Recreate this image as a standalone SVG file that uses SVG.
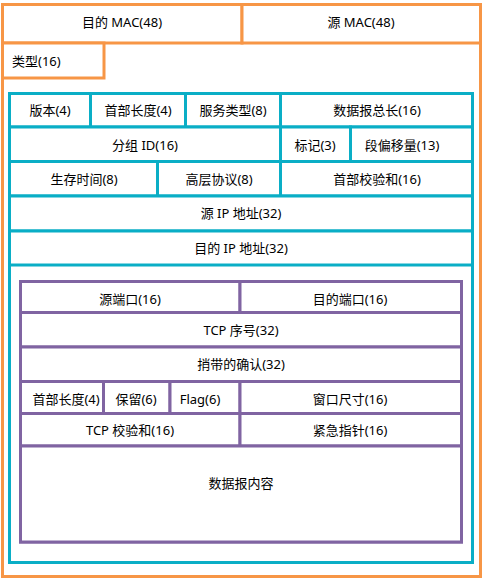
<svg xmlns="http://www.w3.org/2000/svg" width="485" height="581" viewBox="0 0 485 581">
<style>
rect{fill:#fff;stroke-width:3}
.o{stroke:#F79646}
.t{stroke:#0AAEC6}
.p{stroke:#8064A2}
text{font-family:"Noto Sans","Noto Sans CJK SC",sans-serif;font-size:13px;fill:#000;text-anchor:middle;dominant-baseline:central}
</style>
<rect width="485" height="581" style="stroke:none"/>
<g id="eth">
<rect class="o" x="2.5" y="4.5" width="478" height="572"/>
</g>
<g id="dst-mac"><rect class="o" x="2.5" y="4.5" width="239.5" height="38.5"/><text x="122" y="22">目的 MAC(48)</text></g>
<g id="src-mac"><rect class="o" x="242" y="4.5" width="238.5" height="38.5"/><text x="361" y="22">源 MAC(48)</text></g>
<g id="type"><rect class="o" x="2.5" y="43" width="101.5" height="35"/><text x="12" y="61" style="text-anchor:start">类型(16)</text></g>

<g id="ip">
<rect class="t" x="9.5" y="93.5" width="463" height="469"/>
</g>
<g id="ip-ver"><rect class="t" x="9.5" y="93.5" width="81" height="33.5"/><text x="50" y="110">版本(4)</text></g>
<g id="ip-hlen"><rect class="t" x="90.5" y="93.5" width="95" height="33.5"/><text x="138" y="110">首部长度(4)</text></g>
<g id="ip-tos"><rect class="t" x="185.5" y="93.5" width="95" height="33.5"/><text x="233" y="110">服务类型(8)</text></g>
<g id="ip-len"><rect class="t" x="280.5" y="93.5" width="192" height="33.5"/><text x="377" y="110">数据报总长(16)</text></g>
<g id="ip-id"><rect class="t" x="9.5" y="127" width="271" height="34.5"/><text x="145" y="145">分组 ID(16)</text></g>
<g id="ip-flag"><rect class="t" x="280.5" y="127" width="70" height="34.5"/><text x="315" y="145">标记(3)</text></g>
<g id="ip-off"><rect class="t" x="350.5" y="127" width="122" height="34.5"/><text x="402" y="145">段偏移量(13)</text></g>
<g id="ip-ttl"><rect class="t" x="9.5" y="161.5" width="148" height="34.5"/><text x="84" y="179">生存时间(8)</text></g>
<g id="ip-proto"><rect class="t" x="157.5" y="161.5" width="123" height="34.5"/><text x="219" y="179">高层协议(8)</text></g>
<g id="ip-csum"><rect class="t" x="280.5" y="161.5" width="192" height="34.5"/><text x="377" y="179">首部校验和(16)</text></g>
<g id="ip-src"><rect class="t" x="9.5" y="196" width="463" height="35"/><text x="241" y="213">源 IP 地址(32)</text></g>
<g id="ip-dst"><rect class="t" x="9.5" y="231" width="463" height="34"/><text x="241" y="248">目的 IP 地址(32)</text></g>

<g id="tcp">
<rect class="p" x="20.5" y="281.5" width="441" height="260.5"/>
</g>
<g id="tcp-sport"><rect class="p" x="20.5" y="281.5" width="219.5" height="31"/><text x="130" y="299">源端口(16)</text></g>
<g id="tcp-dport"><rect class="p" x="240" y="281.5" width="221.5" height="31"/><text x="350" y="299">目的端口(16)</text></g>
<g id="tcp-seq"><rect class="p" x="20.5" y="312.5" width="441" height="34.5"/><text x="241" y="330">TCP 序号(32)</text></g>
<g id="tcp-ack"><rect class="p" x="20.5" y="347" width="441" height="34.5"/><text x="241" y="364">捎带的确认(32)</text></g>
<g id="tcp-hlen"><rect class="p" x="20.5" y="381.5" width="83" height="32"/><text x="66" y="399">首部长度(4)</text></g>
<g id="tcp-rsv"><rect class="p" x="103.5" y="381.5" width="66.5" height="32"/><text x="136" y="399">保留(6)</text></g>
<g id="tcp-flag"><rect class="p" x="170" y="381.5" width="70" height="32"/><text x="200" y="399">Flag(6)</text></g>
<g id="tcp-win"><rect class="p" x="240" y="381.5" width="221.5" height="32"/><text x="350" y="399">窗口尺寸(16)</text></g>
<g id="tcp-csum"><rect class="p" x="20.5" y="413.5" width="219.5" height="32.5"/><text x="130" y="430">TCP 校验和(16)</text></g>
<g id="tcp-urg"><rect class="p" x="240" y="413.5" width="221.5" height="32.5"/><text x="350" y="430">紧急指针(16)</text></g>
<g id="tcp-data"><rect class="p" x="20.5" y="446" width="441" height="96"/><text x="241" y="483">数据报内容</text></g>
</svg>
